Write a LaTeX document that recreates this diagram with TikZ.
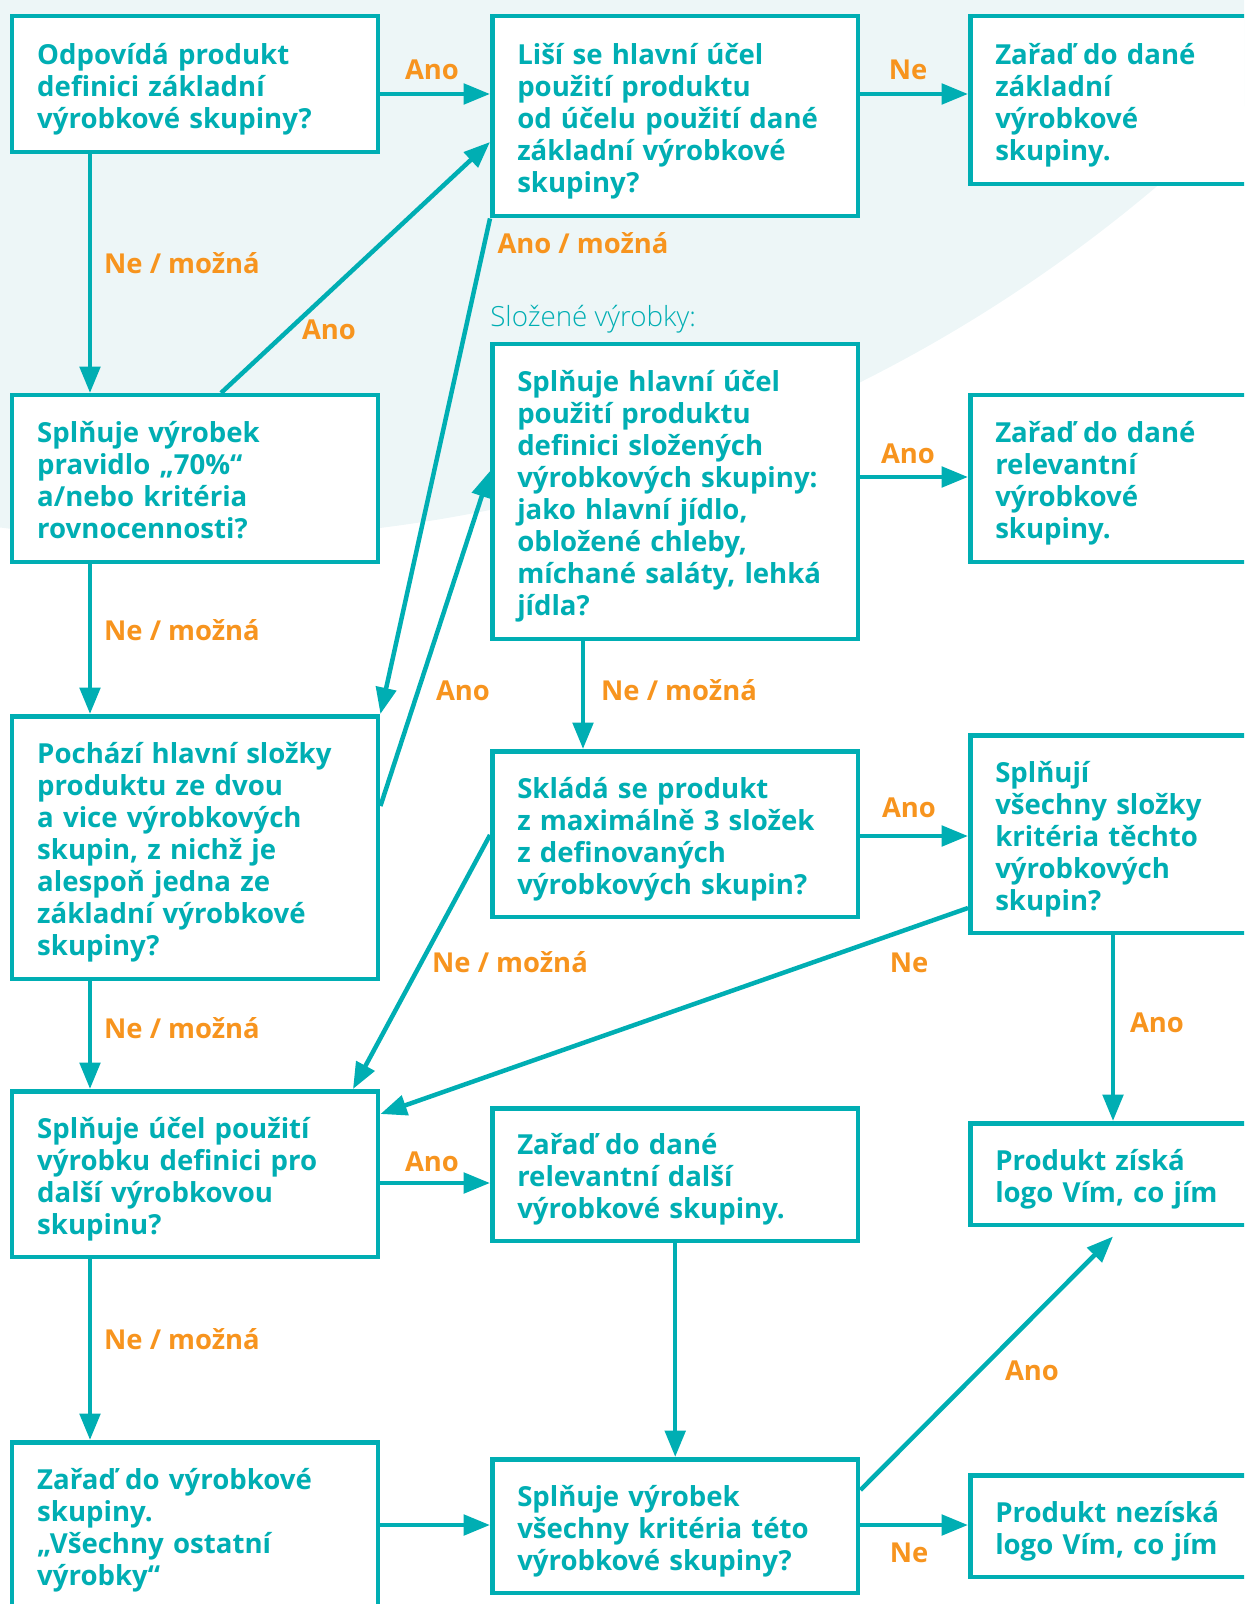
\documentclass[tikz,border=0pt]{standalone}
\usepackage{fontspec}
\setmainfont{Open Sans}
\IfFontExistsTF{Open Sans Light}{\newfontfamily\lightfont{Open Sans Light}}{\newfontfamily\lightfont{Open Sans}}
\usepackage{tikz}
\usetikzlibrary{arrows.meta}
\usetikzlibrary{calc}
\definecolor{tealc}{HTML}{00AEB3}
\definecolor{orangec}{HTML}{F7941E}
\definecolor{paleteal}{HTML}{EDF6F7}

\begin{document}
\begin{tikzpicture}[x=0.02cm,y=-0.02cm,
  box/.style={draw=tealc,line width=0.09cm,fill=white,text=tealc,anchor=north west,
    minimum width=7.32cm,text width=6.32cm,inner xsep=0.5cm,inner ysep=0pt,align=left,
    font=\fontsize{15.7}{18.2}\selectfont\bfseries,
    execute at begin node={\rule{0pt}{17.5pt}},
    execute at end node={\rule[-4pt]{0pt}{4pt}}},
  flow/.style={draw=tealc,line width=0.09cm,-{Triangle[length=15pt,width=11.5pt]}},
  lbl/.style={text=orangec,anchor=base,inner sep=0pt,font=\fontsize{15.6}{18}\selectfont\bfseries}]
\useasboundingbox (0,0) rectangle (1244,1604);
\clip (0,0) rectangle (1244,1604);
\fill[paleteal] (192,-954) circle (29.88cm);

% boxes
\node[box,minimum height=2.72cm] (odpovida) at (10,14) {Odpovídá produkt\\definici základní\\výrobkové skupiny?};
\node[box,minimum height=4.0cm] (lisi) at (490,14) {Liší se hlavní účel\\použití produktu\\od účelu použití dané\\základní výrobkové\\skupiny?};
\node[box,minimum height=3.36cm] (zaradZakl) at (968,14) {Zařaď do dané\\základní\\výrobkové\\skupiny.};
\node[box,minimum height=3.34cm] (pravidlo) at (10,393) {Splňuje výrobek\\pravidlo „70\%“\\a/nebo kritéria\\rovnocennosti?};
\node[box,minimum height=5.9cm] (slozene) at (490,342) {Splňuje hlavní účel\\použití produktu\\definici složených\\výrobkových skupiny:\\jako hlavní jídlo,\\obložené chleby,\\míchané saláty, lehká\\jídla?};
\node[box,minimum height=3.34cm] (zaradRel) at (968,393) {Zařaď do dané\\relevantní\\výrobkové\\skupiny.};
\node[box,minimum height=5.26cm] (pochazi) at (10,714) {Pochází hlavní složky\\produktu ze dvou\\a vice výrobkových\\skupin, z nichž je\\alespoň jedna ze\\základní výrobkové\\skupiny?};
\node[box,minimum height=3.32cm] (sklada) at (490,749) {Skládá se produkt\\z maximálně 3 složek\\z definovaných\\výrobkových skupin?};
\node[box,minimum height=3.96cm] (slozky) at (968,733) {Splňují\\všechny složky\\kritéria těchto\\výrobkových\\skupin?};
\node[box,minimum height=3.32cm] (ucel) at (10,1089) {Splňuje účel použití\\výrobku definici pro\\další výrobkovou\\skupinu?};
\node[box,minimum height=2.66cm] (zaradDalsi) at (490,1106) {Zařaď do dané\\relevantní další\\výrobkové skupiny.};
\node[box,minimum height=2.04cm] (ziska) at (968,1121) {Produkt získá\\logo Vím, co jím};
\node[box,minimum height=3.34cm] (ostatni) at (10,1440) {Zařaď do výrobkové\\skupiny.\\„Všechny ostatní\\výrobky“};
\node[box,minimum height=2.68cm] (kriteria) at (490,1457) {Splňuje výrobek\\všechny kritéria této\\výrobkové skupiny?};
\node[box,minimum height=2.04cm] (neziska) at (968,1473) {Produkt nezíská\\logo Vím, co jím};
\node[text=tealc,anchor=base west,inner sep=0pt,font=\fontsize{15.8}{18}\selectfont\lightfont] (nadpis) at (490,327) {Složené výrobky:};

% connectors
\draw[flow] ($(odpovida.north east)+(0,80)$) -- ($(lisi.north west)+(0,80)$);
\draw[flow] ($(lisi.north east)+(0,80)$) -- ($(zaradZakl.north west)+(0,80)$);
\draw[flow] ($(odpovida.south west)+(80,0)$) -- ($(pravidlo.north west)+(80,0)$);
\draw[flow] ($(pravidlo.north west)+(211,0)$) -- ($(lisi.north west)+(0,128)$);
\draw[flow] (lisi.south west) -- (pochazi.north east);
\draw[flow] ($(pravidlo.south west)+(80,0)$) -- ($(pochazi.north west)+(80,0)$);
\draw[flow] ($(pochazi.north east)+(0,92)$) -- ($(slozene.north west)+(0,129)$);
\draw[flow] ($(slozene.north east)+(0,135)$) -- ($(zaradRel.north west)+(0,84)$);
\draw[flow] ($(slozene.south west)+(93,0)$) -- ($(sklada.north west)+(93,0)$);
\draw[flow] ($(sklada.north east)+(0,87)$) -- ($(slozky.north west)+(0,103)$);
\draw[flow] ($(sklada.north west)+(0,86)$) -- ($(ucel.north west)+(343,0)$);
\draw[flow] ($(slozky.north west)+(0,175)$) -- ($(ucel.north east)+(0,25)$);
\draw[flow] ($(slozky.south west)+(145,0)$) -- ($(ziska.north west)+(145,0)$);
\draw[flow] ($(pochazi.south west)+(80,0)$) -- ($(ucel.north west)+(80,0)$);
\draw[flow] ($(ucel.north east)+(0,94)$) -- ($(zaradDalsi.north west)+(0,77)$);
\draw[flow] ($(ucel.south west)+(80,0)$) -- ($(ostatni.north west)+(80,0)$);
\draw[flow] (zaradDalsi.south) -- (kriteria.north);
\draw[flow] ($(ostatni.north east)+(0,85)$) -- ($(kriteria.north west)+(0,68)$);
\draw[flow] ($(kriteria.north east)+(0,33)$) -- ($(ziska.south west)+(145,9)$);
\draw[flow] ($(kriteria.north east)+(0,68)$) -- ($(neziska.north west)+(0,52)$);

% labels
\node[lbl] (lAB) at (432,80) {Ano};
\node[lbl] (lBC) at (908,80) {Ne};
\node[lbl] (lAD) at (182,274) {Ne / možná};
\node[lbl] (lDB) at (329,340) {Ano};
\node[lbl] (lBG) at (583,254) {Ano / možná};
\node[lbl] (lDG) at (182,640) {Ne / možná};
\node[lbl] (lGE) at (463,700) {Ano};
\node[lbl] (lEF) at (908,463) {Ano};
\node[lbl] (lEH) at (679,700) {Ne / možná};
\node[lbl] (lHI) at (909,817) {Ano};
\node[lbl] (lHJ) at (510,972) {Ne / možná};
\node[lbl] (lIJ) at (909,972) {Ne};
\node[lbl] (lIL) at (1157,1032) {Ano};
\node[lbl] (lGJ) at (182,1038) {Ne / možná};
\node[lbl] (lJK) at (432,1171) {Ano};
\node[lbl] (lJM) at (182,1349) {Ne / možná};
\node[lbl] (lNL) at (1032,1380) {Ano};
\node[lbl] (lNO) at (909,1562) {Ne};
\end{tikzpicture}
\end{document}
